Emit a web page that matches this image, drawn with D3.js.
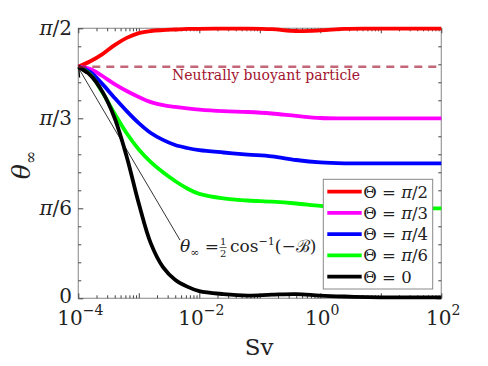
<!DOCTYPE html>
<html>
<head>
<meta charset="utf-8">
<script src="https://cdn.jsdelivr.net/npm/d3@7"></script>
<style>
  body { margin: 0; background: #fff; }
  svg text { font-family: "DejaVu Serif", serif; fill: #222; }
</style>
</head>
<body>
<svg width="488" height="366"></svg>
<script>
// Sv sample points (shared by all curves)
const sv = [1e-4, 1.58e-4, 2.51e-4, 3.98e-4, 6.31e-4, 1e-3, 1.58e-3, 2.51e-3, 3.98e-3, 6.31e-3,
            1e-2, 2.51e-2, 6.31e-2, 0.158, 0.398, 1, 2.51, 6.31, 15.8, 39.8, 100];

// theta_inf in degrees
const thetaPi2 = [77.2, 79.0, 81.4, 84.4, 86.8, 88.4, 89.1, 89.4, 89.6, 89.8,
                  89.8, 89.9, 89.9, 89.7, 89.1, 89.3, 89.8, 89.9, 89.9, 89.9, 89.9];
const thetaPi3 = [77.2, 76.4, 74.1, 71.4, 69.1, 67.1, 65.4, 64.4, 63.8, 63.3,
                  62.9, 62.4, 62.1, 61.6, 60.8, 60.1, 60.0, 60.0, 60.0, 60.0, 60.0];
const thetaPi4 = [77.2, 75.4, 71.4, 66.8, 62.4, 58.4, 55.1, 52.8, 51.1, 50.1,
                  49.4, 48.6, 47.9, 47.3, 46.1, 45.3, 45.0, 45.0, 45.0, 45.0, 45.0];
const thetaPi6 = [77.2, 74.6, 68.6, 61.6, 55.0, 49.6, 45.4, 42.0, 39.1, 36.6,
                  34.8, 33.3, 32.6, 32.2, 31.6, 30.8, 30.3, 30.0, 30.0, 30.0, 30.0];
const theta0   = [77.2, 74.4, 68.8, 60.1, 47.2, 31.6, 18.3, 10.4, 6.2, 3.9,
                  2.4, 1.4, 0.9, 1.2, 1.4, 0.9, 0.6, 0.4, 0.3, 0.3, 0.3];

const seriesNames = ["Θ = π/2", "Θ = π/3", "Θ = π/4", "Θ = π/6", "Θ = 0"];
const seriesColors = ["#ff0000", "#ff00ff", "#0000ff", "#00ff00", "#000000"];
const seriesData = [thetaPi2, thetaPi3, thetaPi4, thetaPi6, theta0];

const neutralTheta = 77.2;
const yTicks = [0, 30, 60, 90];
const yTickLabels = ["0", "π/6", "π/3", "π/2"];
const xDecades = [1e-4, 1e-3, 1e-2, 1e-1, 1, 10, 100];
const xLabelExps = [-4, -2, 0, 2];

const svg = d3.select("svg");
const x = d3.scaleLog().domain([1e-4, 1e2]).range([78.3, 441.3]);
const y = d3.scaleLinear().domain([0, 90]).range([298.3, 28.3]);

// minor tick positions
let xMinor = [];
for (let i = 0; i < xDecades.length - 1; i++) {
    for (let k = 2; k <= 9; k++) xMinor.push(k * xDecades[i]);
}
const yMinor = d3.range(0, 91, 6).filter(v => v % 30 !== 0);

// axes box
svg.append("rect")
    .attr("x", x(1e-4)).attr("y", y(90))
    .attr("width", x(1e2) - x(1e-4)).attr("height", y(0) - y(90))
    .attr("fill", "none").attr("stroke", "#999").attr("stroke-width", 1.2);

function ticks(axis, tx, ty) {
    const g = svg.append("g").attr("transform", `translate(${tx},${ty})`).call(axis);
    g.select(".domain").remove();
    g.selectAll("line").attr("stroke", "#444");
    g.selectAll("text").remove();
}
ticks(d3.axisBottom(x).tickValues(xDecades).tickSizeInner(-5).tickSizeOuter(0), 0, y(0));
ticks(d3.axisBottom(x).tickValues(xMinor).tickSizeInner(-3).tickSizeOuter(0), 0, y(0));
ticks(d3.axisTop(x).tickValues(xDecades).tickSizeInner(-5).tickSizeOuter(0), 0, y(90));
ticks(d3.axisTop(x).tickValues(xMinor).tickSizeInner(-3).tickSizeOuter(0), 0, y(90));
ticks(d3.axisLeft(y).tickValues(yTicks).tickSizeInner(-5).tickSizeOuter(0), x(1e-4), 0);
ticks(d3.axisLeft(y).tickValues(yMinor).tickSizeInner(-3).tickSizeOuter(0), x(1e-4), 0);
ticks(d3.axisRight(y).tickValues(yTicks).tickSizeInner(-5).tickSizeOuter(0), x(1e2), 0);
ticks(d3.axisRight(y).tickValues(yMinor).tickSizeInner(-3).tickSizeOuter(0), x(1e2), 0);

// x tick labels 10^n
xLabelExps.forEach(e => {
    const t = svg.append("text")
        .attr("x", x(Math.pow(10, e)) + 2).attr("y", 325)
        .attr("text-anchor", "middle").attr("font-size", 20);
    t.append("tspan").text("10");
    t.append("tspan").attr("dy", -10).attr("font-size", 14).text(e < 0 ? "−" + (-e) : String(e));
});

// y tick labels
yTicks.forEach((v, i) => {
    const t = svg.append("text")
        .attr("x", 72).attr("y", y(v) + (v === 0 ? 5 : 7))
        .attr("text-anchor", "end").attr("font-size", 20);
    const lab = yTickLabels[i];
    if (lab.startsWith("π")) {
        t.append("tspan").attr("font-style", "italic").text("π");
        t.append("tspan").text(lab.slice(1));
    } else {
        t.text(lab);
    }
});

// axis titles
svg.append("text").attr("x", 259).attr("y", 355)
    .attr("text-anchor", "middle").attr("font-size", 23).text("Sv");
const yl = svg.append("text")
    .attr("transform", "translate(30,165) rotate(-90)")
    .attr("text-anchor", "middle").attr("font-size", 25);
yl.append("tspan").attr("font-style", "italic").text("θ");
yl.append("tspan").attr("font-size", 16).attr("dy", 6).text("∞");

// curves
const line = d3.line()
    .x((d, i) => x(sv[i]))
    .y(d => y(d))
    .curve(d3.curveCatmullRom.alpha(0.5));

seriesData.forEach((s, i) => {
    svg.append("path")
        .datum(s)
        .attr("d", line)
        .attr("fill", "none")
        .attr("stroke", seriesColors[i])
        .attr("stroke-width", 3.8)
        .attr("stroke-linejoin", "round");
});

// neutrally buoyant dashed line
svg.append("line")
    .attr("x1", x(1e-4)).attr("x2", x(1e2))
    .attr("y1", y(neutralTheta)).attr("y2", y(neutralTheta))
    .attr("stroke", "#a2142f").attr("stroke-opacity", 0.65)
    .attr("stroke-width", 2.6).attr("stroke-dasharray", "8,6");
svg.append("text").attr("x", 172).attr("y", 80).attr("font-size", 14)
    .style("fill", "#a2142f").text("Neutrally buoyant particle");

// annotation arrow
const tail = [4.8e-3, 19.4], head = [1.02e-4, 76.6];
const hx = x(head[0]), hy = y(head[1]), tx0 = x(tail[0]), ty0 = y(tail[1]);
svg.append("line").attr("x1", tx0).attr("y1", ty0).attr("x2", hx).attr("y2", hy)
    .attr("stroke", "#000").attr("stroke-width", 0.8);
const ang = Math.atan2(ty0 - hy, tx0 - hx);
[-0.45, 0.45].forEach(da => {
    svg.append("line")
        .attr("x1", hx).attr("y1", hy)
        .attr("x2", hx + 9 * Math.cos(ang + da)).attr("y2", hy + 9 * Math.sin(ang + da))
        .attr("stroke", "#000").attr("stroke-width", 1.3);
});

// annotation text
const ann = svg.append("text").attr("x", 180).attr("y", 252).attr("font-size", 17);
ann.append("tspan").attr("font-style", "italic").text("θ");
ann.append("tspan").attr("font-size", 11).attr("dy", 4).text("∞");
ann.append("tspan").attr("dy", -4).text(" = ");
const w1 = ann.node().getComputedTextLength();
const fx = 180 + w1 + 4;
svg.append("text").attr("x", fx).attr("y", 245).attr("font-size", 10)
    .attr("text-anchor", "middle").text("1");
svg.append("line").attr("x1", fx - 3.5).attr("x2", fx + 3.5).attr("y1", 247.5).attr("y2", 247.5)
    .attr("stroke", "#222").attr("stroke-width", 0.7);
svg.append("text").attr("x", fx).attr("y", 257).attr("font-size", 10)
    .attr("text-anchor", "middle").text("2");
const ann2 = svg.append("text").attr("x", fx + 7).attr("y", 252).attr("font-size", 17);
ann2.append("tspan").text("cos");
ann2.append("tspan").attr("font-size", 11).attr("dy", -7).text("−1");
ann2.append("tspan").attr("dy", 7).text("(−");
ann2.append("tspan").text("ℬ");
ann2.append("tspan").text(")");

// legend
const lg = svg.append("g").attr("transform", "translate(323.3,179.3)");
lg.append("rect").attr("width", 109.4).attr("height", 109.7)
    .attr("fill", "#fff").attr("stroke", "#888").attr("stroke-width", 1);
seriesNames.forEach((name, i) => {
    const ry = 12.4 + i * 21.25;
    lg.append("line").attr("x1", 4).attr("x2", 38.4).attr("y1", ry).attr("y2", ry)
        .attr("stroke", seriesColors[i]).attr("stroke-width", 3.8);
    const t = lg.append("text").attr("x", 40).attr("y", ry + 6).attr("font-size", 16.5);
    const parts = name.split("π");
    t.append("tspan").text(parts[0]);
    if (parts.length > 1) {
        t.append("tspan").attr("font-style", "italic").text("π");
        t.append("tspan").text(parts[1]);
    }
});
</script>
</body>
</html>
